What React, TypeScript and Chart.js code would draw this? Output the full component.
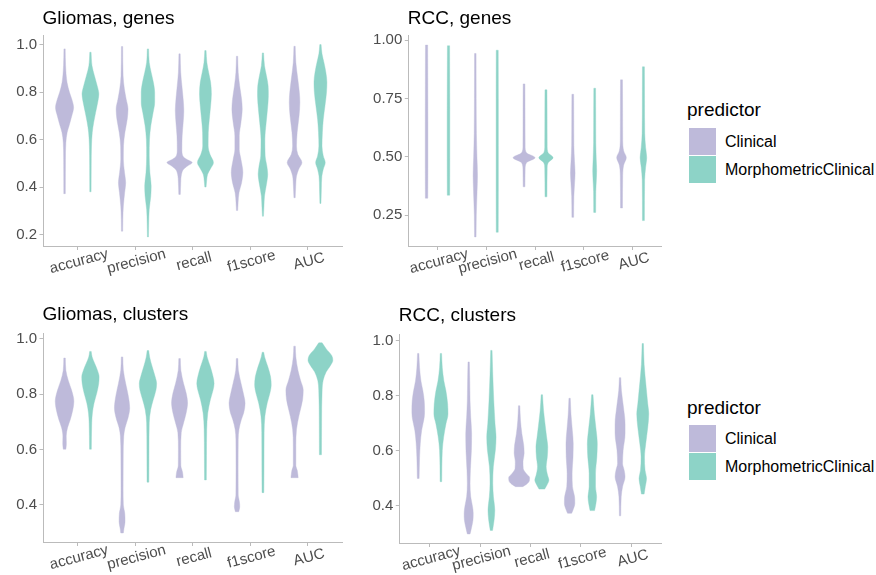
import React, { useEffect, useRef } from 'react';
import { Chart, registerables } from 'chart.js';

Chart.register(...registerables);

type Profile = [number, number][]; // [value, relative violin width], from min to max

const metrics = ['accuracy', 'precision', 'recall', 'f1score', 'AUC'];
const predictors = ['Clinical', 'MorphometricClinical'];
const predictorColors = ['#BEBADA', '#8DD3C7'];
const panelTitles = ['Gliomas, genes', 'RCC, genes', 'Gliomas, clusters', 'RCC, clusters'];

const gliomasGenesTicks = [0.2, 0.4, 0.6, 0.8, 1.0];
const gliomasGenesTickLabels = ['0.2', '0.4', '0.6', '0.8', '1.0'];
const rccGenesTicks = [0.25, 0.5, 0.75, 1.0];
const rccGenesTickLabels = ['0.25', '0.50', '0.75', '1.00'];
const clustersTicks = [0.4, 0.6, 0.8, 1.0];
const clustersTickLabels = ['0.4', '0.6', '0.8', '1.0'];

// ---------- Gliomas, genes ----------
const gliomasGenesClinical: Profile[] = [
  [[0.372,0.06],[0.517,0.07],[0.587,0.10],[0.630,0.20],[0.658,0.35],[0.700,0.56],[0.735,0.70],[0.770,0.56],[0.799,0.38],[0.841,0.19],[0.911,0.08],[0.982,0.05]],
  [[0.214,0.05],[0.263,0.06],[0.320,0.10],[0.376,0.20],[0.418,0.28],[0.461,0.19],[0.517,0.10],[0.573,0.11],[0.630,0.22],[0.686,0.40],[0.728,0.46],[0.770,0.32],[0.813,0.18],[0.869,0.08],[0.992,0.05]],
  [[0.369,0.06],[0.418,0.09],[0.454,0.15],[0.475,0.31],[0.489,0.62],[0.503,0.98],[0.517,0.55],[0.531,0.25],[0.559,0.18],[0.615,0.20],[0.672,0.28],[0.721,0.33],[0.770,0.28],[0.827,0.18],[0.883,0.09],[0.961,0.05]],
  [[0.301,0.05],[0.334,0.08],[0.376,0.15],[0.418,0.35],[0.461,0.45],[0.517,0.30],[0.559,0.17],[0.615,0.17],[0.672,0.30],[0.728,0.40],[0.770,0.35],[0.827,0.20],[0.883,0.09],[0.951,0.05]],
  [[0.355,0.05],[0.404,0.09],[0.446,0.15],[0.475,0.32],[0.503,0.57],[0.538,0.25],[0.573,0.15],[0.630,0.20],[0.700,0.35],[0.756,0.41],[0.799,0.37],[0.855,0.25],[0.925,0.10],[0.993,0.05]],
];
const gliomasGenesMorpho: Profile[] = [
  [[0.380,0.05],[0.489,0.06],[0.573,0.08],[0.630,0.14],[0.672,0.25],[0.714,0.40],[0.756,0.56],[0.792,0.65],[0.827,0.52],[0.869,0.31],[0.911,0.12],[0.968,0.05]],
  [[0.190,0.04],[0.249,0.06],[0.306,0.10],[0.362,0.22],[0.404,0.25],[0.461,0.15],[0.531,0.10],[0.601,0.12],[0.658,0.22],[0.714,0.40],[0.756,0.52],[0.799,0.52],[0.841,0.42],[0.883,0.25],[0.925,0.10],[0.982,0.05]],
  [[0.400,0.05],[0.425,0.09],[0.454,0.17],[0.475,0.37],[0.503,0.62],[0.538,0.35],[0.573,0.21],[0.630,0.22],[0.686,0.30],[0.742,0.40],[0.792,0.46],[0.841,0.40],[0.883,0.25],[0.925,0.11],[0.975,0.05]],
  [[0.277,0.04],[0.320,0.08],[0.362,0.12],[0.411,0.27],[0.454,0.37],[0.489,0.30],[0.531,0.17],[0.601,0.15],[0.672,0.25],[0.728,0.35],[0.785,0.42],[0.827,0.40],[0.869,0.27],[0.911,0.12],[0.965,0.05]],
  [[0.331,0.04],[0.390,0.07],[0.446,0.11],[0.475,0.22],[0.503,0.37],[0.531,0.22],[0.573,0.12],[0.630,0.15],[0.686,0.22],[0.742,0.35],[0.799,0.47],[0.841,0.50],[0.883,0.42],[0.925,0.27],[0.961,0.12],[1.000,0.05]],
];

// ---------- RCC, genes ----------
const rccGenesClinical: Profile[] = [
  [[0.322,0.11],[0.45,0.12],[0.65,0.12],[0.85,0.11],[0.979,0.10]],
  [[0.156,0.07],[0.25,0.09],[0.35,0.16],[0.42,0.20],[0.50,0.15],[0.60,0.10],[0.75,0.08],[0.943,0.07]],
  [[0.371,0.08],[0.446,0.10],[0.474,0.22],[0.496,1.0],[0.517,0.22],[0.545,0.10],[0.70,0.09],[0.8125,0.08]],
  [[0.240,0.08],[0.33,0.10],[0.39,0.17],[0.43,0.21],[0.48,0.16],[0.55,0.10],[0.68,0.09],[0.768,0.08]],
  [[0.280,0.09],[0.42,0.11],[0.465,0.20],[0.496,0.44],[0.525,0.20],[0.57,0.11],[0.72,0.10],[0.830,0.09]],
];
const rccGenesMorpho: Profile[] = [
  [[0.335,0.11],[0.5,0.12],[0.7,0.12],[0.976,0.10]],
  [[0.176,0.09],[0.35,0.10],[0.55,0.10],[0.75,0.10],[0.957,0.09]],
  [[0.328,0.09],[0.45,0.11],[0.474,0.20],[0.496,0.65],[0.517,0.20],[0.545,0.11],[0.70,0.10],[0.787,0.09]],
  [[0.261,0.09],[0.35,0.10],[0.40,0.15],[0.44,0.18],[0.49,0.14],[0.56,0.10],[0.70,0.09],[0.794,0.08]],
  [[0.226,0.09],[0.40,0.11],[0.455,0.20],[0.496,0.30],[0.54,0.20],[0.60,0.12],[0.75,0.10],[0.886,0.09]],
];

// ---------- Gliomas, clusters ----------
const gliomasClustersClinical: Profile[] = [
  [[0.601,0.10],[0.619,0.14],[0.649,0.13],[0.679,0.23],[0.708,0.44],[0.744,0.64],[0.774,0.72],[0.815,0.54],[0.851,0.28],[0.887,0.10],[0.931,0.06]],
  [[0.298,0.10],[0.315,0.15],[0.339,0.23],[0.369,0.21],[0.399,0.10],[0.458,0.08],[0.577,0.09],[0.649,0.13],[0.679,0.23],[0.714,0.46],[0.750,0.59],[0.792,0.49],[0.839,0.28],[0.887,0.10],[0.935,0.06]],
  [[0.498,0.28],[0.518,0.23],[0.542,0.10],[0.601,0.09],[0.661,0.13],[0.696,0.31],[0.732,0.51],[0.768,0.62],[0.804,0.51],[0.839,0.31],[0.887,0.10],[0.929,0.06]],
  [[0.375,0.13],[0.393,0.21],[0.411,0.18],[0.435,0.09],[0.530,0.08],[0.637,0.09],[0.673,0.15],[0.708,0.33],[0.732,0.51],[0.768,0.62],[0.792,0.54],[0.839,0.31],[0.887,0.10],[0.929,0.06]],
  [[0.498,0.28],[0.524,0.21],[0.542,0.10],[0.613,0.10],[0.673,0.15],[0.720,0.33],[0.780,0.62],[0.815,0.67],[0.851,0.46],[0.887,0.26],[0.935,0.10],[0.974,0.06]],
];
const gliomasClustersMorpho: Profile[] = [
  [[0.601,0.07],[0.696,0.10],[0.732,0.15],[0.768,0.28],[0.804,0.49],[0.839,0.64],[0.863,0.67],[0.887,0.54],[0.911,0.33],[0.935,0.13],[0.955,0.06]],
  [[0.482,0.07],[0.601,0.08],[0.696,0.10],[0.744,0.21],[0.780,0.41],[0.815,0.62],[0.839,0.67],[0.863,0.56],[0.899,0.33],[0.935,0.13],[0.958,0.06]],
  [[0.490,0.07],[0.577,0.08],[0.673,0.10],[0.732,0.18],[0.780,0.38],[0.815,0.59],[0.839,0.67],[0.863,0.59],[0.899,0.38],[0.935,0.13],[0.955,0.06]],
  [[0.444,0.07],[0.530,0.08],[0.661,0.09],[0.720,0.15],[0.768,0.33],[0.804,0.54],[0.833,0.64],[0.863,0.59],[0.899,0.38],[0.935,0.13],[0.952,0.06]],
  [[0.581,0.08],[0.696,0.09],[0.815,0.13],[0.851,0.21],[0.881,0.45],[0.905,0.79],[0.923,0.96],[0.940,0.87],[0.964,0.45],[0.986,0.13]],
];

// ---------- RCC, clusters ----------
const rccClustersClinical: Profile[] = [
  [[0.499,0.08],[0.577,0.12],[0.625,0.18],[0.673,0.30],[0.721,0.53],[0.745,0.56],[0.781,0.53],[0.817,0.41],[0.853,0.24],[0.901,0.12],[0.953,0.06]],
  [[0.297,0.12],[0.320,0.25],[0.348,0.38],[0.372,0.40],[0.396,0.34],[0.432,0.18],[0.481,0.12],[0.529,0.15],[0.601,0.24],[0.661,0.26],[0.721,0.18],[0.781,0.12],[0.865,0.09],[0.922,0.06]],
  [[0.469,0.32],[0.478,0.66],[0.490,0.90],[0.502,0.92],[0.515,0.66],[0.535,0.36],[0.560,0.34],[0.590,0.44],[0.620,0.40],[0.661,0.24],[0.709,0.12],[0.763,0.06]],
  [[0.372,0.18],[0.384,0.30],[0.408,0.46],[0.432,0.44],[0.469,0.25],[0.517,0.22],[0.577,0.30],[0.625,0.32],[0.673,0.24],[0.733,0.12],[0.790,0.06]],
  [[0.363,0.06],[0.432,0.10],[0.469,0.22],[0.505,0.44],[0.529,0.36],[0.553,0.22],[0.601,0.27],[0.661,0.44],[0.697,0.44],[0.757,0.30],[0.817,0.12],[0.865,0.06]],
];
const rccClustersMorpho: Profile[] = [
  [[0.487,0.07],[0.601,0.12],[0.649,0.24],[0.697,0.44],[0.733,0.62],[0.769,0.59],[0.817,0.44],[0.853,0.26],[0.901,0.12],[0.953,0.06]],
  [[0.310,0.10],[0.348,0.24],[0.384,0.30],[0.432,0.18],[0.481,0.12],[0.541,0.17],[0.601,0.35],[0.649,0.41],[0.697,0.32],[0.781,0.21],[0.877,0.12],[0.964,0.06]],
  [[0.460,0.25],[0.475,0.45],[0.493,0.62],[0.511,0.50],[0.541,0.38],[0.577,0.48],[0.613,0.52],[0.649,0.42],[0.697,0.28],[0.745,0.15],[0.803,0.06]],
  [[0.382,0.20],[0.408,0.32],[0.432,0.38],[0.469,0.28],[0.517,0.28],[0.577,0.40],[0.625,0.44],[0.673,0.34],[0.733,0.18],[0.803,0.06]],
  [[0.442,0.12],[0.469,0.22],[0.499,0.33],[0.529,0.20],[0.577,0.15],[0.625,0.26],[0.685,0.44],[0.733,0.53],[0.769,0.44],[0.829,0.30],[0.913,0.12],[0.989,0.06]],
];

const panelProfiles: Profile[][][] = [
  [gliomasGenesClinical, gliomasGenesMorpho],
  [rccGenesClinical, rccGenesMorpho],
  [gliomasClustersClinical, gliomasClustersMorpho],
  [rccClustersClinical, rccClustersMorpho],
];
const panelYTicks = [gliomasGenesTicks, rccGenesTicks, clustersTicks, clustersTicks];
const panelYTickLabels = [gliomasGenesTickLabels, rccGenesTickLabels, clustersTickLabels, clustersTickLabels];

// ---------- styling / layout ----------
const FONT = "'Liberation Sans', Arial, Helvetica, sans-serif";
const AXIS_COLOR = '#BBBBBB';
const TEXT_GREY = '#4D4D4D';
const VIOLIN_HALF = 0.225; // half of the dodged violin width (x units) for relative width 1
const DODGE_SHIFT = 0.225;

const layouts = [
  { left: 0, top: 0, width: 350, height: 290, axisLeft: 43, padRight: 8, padTop: 35, plotBottom: 246.5, titleBaseline: 24 },
  { left: 350, top: 0, width: 320, height: 290, axisLeft: 58.3, padRight: 8.3, padTop: 35.5, plotBottom: 246.5, titleBaseline: 24 },
  { left: 0, top: 290, width: 350, height: 285, axisLeft: 43, padRight: 8, padTop: 43.3, plotBottom: 252.5, titleBaseline: 30 },
  { left: 350, top: 290, width: 320, height: 285, axisLeft: 49.3, padRight: 8.3, padTop: 44, plotBottom: 253.5, titleBaseline: 30.5 },
];

function tangents(vs: number[], ws: number[]): number[] {
  const n = vs.length;
  const m: number[] = new Array(n).fill(0);
  if (n < 2) return m;
  const d: number[] = [];
  for (let i = 0; i < n - 1; i++) d.push((ws[i + 1] - ws[i]) / (vs[i + 1] - vs[i]));
  m[0] = d[0];
  m[n - 1] = d[n - 2];
  for (let i = 1; i < n - 1; i++) m[i] = d[i - 1] * d[i] <= 0 ? 0 : (d[i - 1] + d[i]) / 2;
  for (let i = 0; i < n - 1; i++) {
    if (d[i] === 0) { m[i] = 0; m[i + 1] = 0; continue; }
    const a = m[i] / d[i];
    const b = m[i + 1] / d[i];
    const s = a * a + b * b;
    if (s > 9) {
      const t = 3 / Math.sqrt(s);
      m[i] = t * a * d[i];
      m[i + 1] = t * b * d[i];
    }
  }
  return m;
}

function drawViolin(ctx: CanvasRenderingContext2D, profile: Profile, center: number, xs: any, ys: any, color: string) {
  const vs = profile.map((p) => p[0]);
  const ws = profile.map((p) => p[1]);
  const m = tangents(vs, ws);
  const n = vs.length;
  const X = (side: number, w: number) => xs.getPixelForValue(center + side * w * VIOLIN_HALF);
  const Y = (v: number) => ys.getPixelForValue(v);
  ctx.beginPath();
  ctx.moveTo(X(-1, ws[0]), Y(vs[0]));
  ctx.lineTo(X(1, ws[0]), Y(vs[0]));
  for (let i = 0; i < n - 1; i++) {
    const h = vs[i + 1] - vs[i];
    ctx.bezierCurveTo(
      X(1, ws[i] + (m[i] * h) / 3), Y(vs[i] + h / 3),
      X(1, ws[i + 1] - (m[i + 1] * h) / 3), Y(vs[i + 1] - h / 3),
      X(1, ws[i + 1]), Y(vs[i + 1])
    );
  }
  ctx.lineTo(X(-1, ws[n - 1]), Y(vs[n - 1]));
  for (let i = n - 1; i > 0; i--) {
    const h = vs[i] - vs[i - 1];
    ctx.bezierCurveTo(
      X(-1, ws[i] - (m[i] * h) / 3), Y(vs[i] - h / 3),
      X(-1, ws[i - 1] + (m[i - 1] * h) / 3), Y(vs[i - 1] + h / 3),
      X(-1, ws[i - 1]), Y(vs[i - 1])
    );
  }
  ctx.closePath();
  ctx.fillStyle = color;
  ctx.fill();
  ctx.strokeStyle = color;
  ctx.lineWidth = 0.4;
  ctx.stroke();
}

function makePanelPlugin(index: number) {
  const lay = layouts[index];
  return {
    id: 'violinPanel' + index,
    beforeDatasetsDraw(chart: any) {
      const xs = chart.scales.x;
      const ys = chart.scales.y;
      const ctx = chart.ctx as CanvasRenderingContext2D;
      ctx.save();
      panelProfiles[index].forEach((group, gi) => {
        const shift = gi === 0 ? -DODGE_SHIFT : DODGE_SHIFT;
        group.forEach((profile, mi) => drawViolin(ctx, profile, mi + 1 + shift, xs, ys, predictorColors[gi]));
      });
      ctx.restore();
    },
    afterDraw(chart: any) {
      const ctx = chart.ctx as CanvasRenderingContext2D;
      const area = chart.chartArea;
      const xs = chart.scales.x;
      ctx.save();
      ctx.fillStyle = '#000000';
      ctx.font = `19px ${FONT}`;
      ctx.textAlign = 'left';
      ctx.textBaseline = 'alphabetic';
      ctx.fillText(panelTitles[index], area.left - 0.5, lay.titleBaseline);
      ctx.fillStyle = TEXT_GREY;
      ctx.font = `15px ${FONT}`;
      ctx.textAlign = 'center';
      ctx.textBaseline = 'middle';
      metrics.forEach((name, i) => {
        const px = xs.getPixelForValue(i + 1);
        ctx.save();
        ctx.translate(px + 1.5, area.bottom + 15);
        ctx.rotate((-15 * Math.PI) / 180);
        ctx.fillText(name, 0, 0);
        ctx.restore();
      });
      ctx.restore();
    },
  };
}

function ViolinPanel({ index }: { index: number }) {
  const ref = useRef<HTMLCanvasElement>(null);
  const lay = layouts[index];
  useEffect(() => {
    const canvas = ref.current;
    if (!canvas) return;
    const groups = panelProfiles[index];
    let lo = Infinity;
    let hi = -Infinity;
    groups.forEach((g) => g.forEach((p) => {
      lo = Math.min(lo, p[0][0]);
      hi = Math.max(hi, p[p.length - 1][0]);
    }));
    const expand = (hi - lo) * 0.05;
    const yTicks = panelYTicks[index];
    const yLabels = panelYTickLabels[index];
    const gridCfg = { display: true, drawOnChartArea: false, drawTicks: true, tickLength: 3.5, color: AXIS_COLOR, lineWidth: 1 };
    const borderCfg = { display: true, color: AXIS_COLOR, width: 1 };
    const chart = new Chart(canvas, {
      type: 'scatter',
      data: {
        datasets: predictors.map((p, i) => ({ label: p, data: [], backgroundColor: predictorColors[i] })),
      },
      options: {
        animation: false,
        responsive: false,
        maintainAspectRatio: false,
        layout: { padding: { top: lay.padTop, right: lay.padRight, bottom: 0, left: 0 } },
        plugins: { legend: { display: false }, tooltip: { enabled: false }, title: { display: false } },
        scales: {
          x: {
            type: 'linear',
            min: 0.4,
            max: 5.6,
            afterBuildTicks: (s: any) => { s.ticks = metrics.map((_, i) => ({ value: i + 1 })); },
            afterFit: (s: any) => { s.height = lay.height - lay.plotBottom; },
            ticks: { display: false },
            grid: gridCfg,
            border: borderCfg,
          },
          y: {
            type: 'linear',
            min: lo - expand,
            max: hi + expand,
            afterBuildTicks: (s: any) => { s.ticks = yTicks.map((v) => ({ value: v })); },
            afterFit: (s: any) => { s.width = lay.axisLeft; },
            ticks: {
              callback: (_v: any, i: number) => yLabels[i],
              font: { family: FONT, size: 15 },
              color: TEXT_GREY,
              padding: 2.5,
            },
            grid: gridCfg,
            border: borderCfg,
          },
        },
      } as any,
      plugins: [makePanelPlugin(index)],
    });
    return () => chart.destroy();
  }, [index]);
  return (
    <canvas
      ref={ref}
      width={lay.width}
      height={lay.height}
      style={{ position: 'absolute', left: lay.left, top: lay.top, width: lay.width, height: lay.height }}
    />
  );
}

function Legend({ titleTop, boxTops }: { titleTop: number; boxTops: number[] }) {
  return (
    <>
      <div style={{ position: 'absolute', left: 687, top: titleTop, fontFamily: FONT, fontSize: 19, lineHeight: '19px', color: '#000', whiteSpace: 'nowrap' }}>
        predictor
      </div>
      {predictors.map((p, i) => (
        <React.Fragment key={p}>
          <div style={{ position: 'absolute', left: 688.5, top: boxTops[i], width: 27, height: 27, background: predictorColors[i] }} />
          <div style={{ position: 'absolute', left: 725, top: boxTops[i], height: 27, lineHeight: '27px', fontFamily: FONT, fontSize: 16, color: '#000', whiteSpace: 'nowrap' }}>
            {p}
          </div>
        </React.Fragment>
      ))}
    </>
  );
}

export default function App() {
  return (
    <div style={{ position: 'absolute', left: 0, top: 0, width: 876, height: 575, background: '#ffffff', overflow: 'hidden' }}>
      {layouts.map((_, i) => (
        <ViolinPanel key={i} index={i} />
      ))}
      <Legend titleTop={99.5} boxTops={[128, 156]} />
      <Legend titleTop={398} boxTops={[425, 453]} />
    </div>
  );
}
